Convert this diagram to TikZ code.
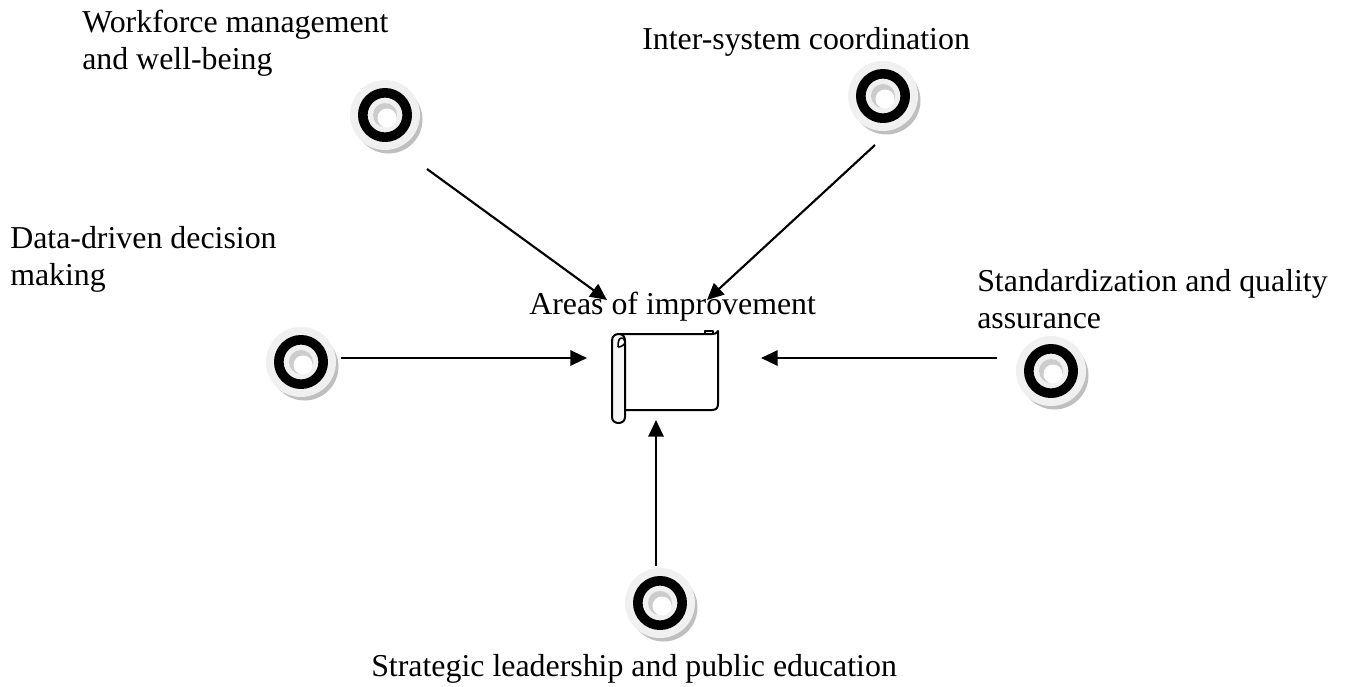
\documentclass[tikz,border=0pt]{standalone}
\usepackage{fontspec}
\setmainfont{Liberation Serif}
\usetikzlibrary{arrows.meta}

\begin{document}
\begin{tikzpicture}[
    x = 0.75pt,
    y = -0.75pt,
    line join=round,
    label/.style = {anchor=base west, inner sep=0pt, align=left, font=\fontsize{23.9}{27.7}\selectfont},
    link/.style = {-{Triangle[length=12.5pt, width=11.5pt]}, line width=1.6pt},
    scrollline/.style = {line width=1.5pt, fill=white}
]

\useasboundingbox (0, 0) rectangle (1346, 686);

% ring positions
\coordinate (workforce) at (385, 115);
\coordinate (intersystem) at (883, 96);
\coordinate (datadriven) at (301, 362);
\coordinate (standard) at (1051, 371);
\coordinate (strategic) at (660, 603);

\foreach \ring in {workforce, intersystem, datadriven, standard, strategic} {
    \fill[black!25] (\ring) ++ (3.5, 4.5) circle (34);
    \fill[black!6] (\ring) circle (35);
    \draw[line width=7.2pt] (\ring) circle (22.2);
    \fill[black!20] (\ring) circle (12);
    \fill[white] (\ring) ++ (2, 3) circle (9.5);
}

% tails and heads of the arrows
\coordinate (tail1) at (427, 169);
\coordinate (head1) at (607, 300);
\coordinate (tail2) at (875, 145);
\coordinate (head2) at (707, 300);
\coordinate (tail3) at (341, 358);
\coordinate (head3) at (587, 358);
\coordinate (tail4) at (997, 358);
\coordinate (head4) at (761, 358);
\coordinate (tail5) at (656, 566);
\coordinate (head5) at (656, 420);

\node[label] (workforcetext) at (82, 69) {Workforce management\\and well-being};
\node[label] (intertext) at (642, 49) {Inter-system coordination};
\node[label] (datatext) at (10, 285) {Data-driven decision\\making};
\node[label] (standardtext) at (977, 328) {Standardization and quality\\assurance};
\node[label] (strategictext) at (371, 676) {Strategic leadership and public education};
\node[label] (areastext) at (529, 314) {Areas of improvement};

\draw[link] (tail1) -- (head1);
\draw[link] (tail2) -- (head2);
\draw[link] (tail3) -- (head3);
\draw[link] (tail4) -- (head4);
\draw[link] (tail5) -- (head5);

% scroll
\draw[scrollline] (705, 334) -- (705, 331) -- (713, 331) -- (713, 334);
\draw[scrollline] (619, 334) -- (712, 334) .. controls (716, 334) and (718, 332) .. (718, 331)
    -- (718, 404) .. controls (718, 408) and (716, 410) .. (712, 410) -- (624, 410);
\draw[scrollline, fill=black!3] (612, 341) .. controls (612, 336) and (615, 334) .. (619, 334)
    .. controls (623, 334) and (625, 337) .. (625, 341) -- (625, 417)
    .. controls (625, 421) and (622, 423) .. (618.5, 423)
    .. controls (615, 423) and (612, 421) .. (612, 417) -- cycle;
\draw[line width=1.2pt, fill=white] (618, 347) .. controls (621, 347) and (625, 345) .. (625, 342)
    .. controls (625, 339) and (623, 338) .. (621.5, 338)
    .. controls (619, 338) and (618, 341) .. (618, 347);

\end{tikzpicture}
\end{document}
